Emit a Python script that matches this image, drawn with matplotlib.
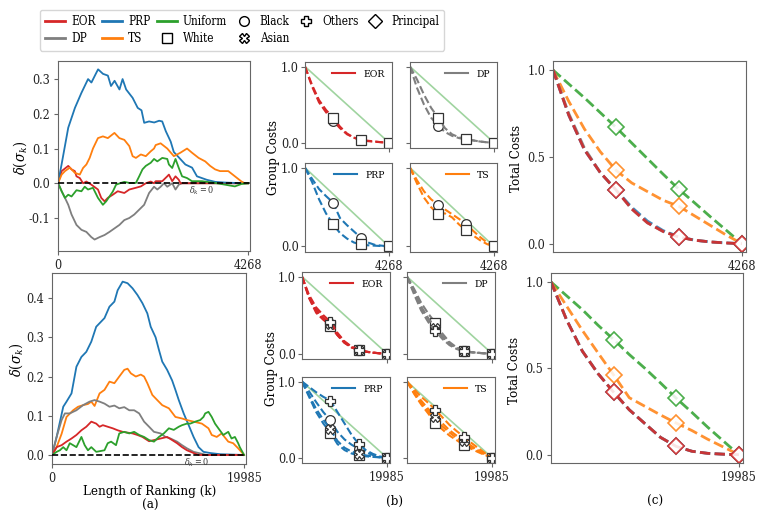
import numpy as np
import matplotlib
matplotlib.use("Agg")
from matplotlib import pyplot as plt
from matplotlib.lines import Line2D

plt.rcParams['font.family'] = ['DejaVu Serif']
plt.rcParams['font.stretch'] = 'condensed'
plt.rcParams['mathtext.fontset'] = 'dejavuserif'
plt.rcParams['axes.unicode_minus'] = False

N_TOP = 4268
N_BOT = 19985

COLORS = {'EOR': '#d62728', 'DP': '#7f7f7f', 'PRP': '#1f77b4',
          'TS': '#ff7f0e', 'Uniform': '#2ca02c'}
MARKERS = {'Black': 'o', 'White': 's', 'Asian': 'X', 'Others': 'P'}

# ---- (a) delta(sigma_k) along the ranking, 4268 candidates
prp_top_k = [0, 80, 230, 380, 525, 675, 750, 860, 900, 1010, 1120, 1190, 1270, 1380, 1450,
             1530, 1675, 1790, 1875, 1935, 2045, 2160, 2270, 2340, 2420, 2530, 2600, 2860,
             3010, 3120, 3340, 3530, 3750, 4190, 4268]
prp_top_y = [0, 0.054, 0.16, 0.217, 0.26, 0.30, 0.29, 0.318, 0.328, 0.315, 0.31, 0.28, 0.295,
             0.27, 0.30, 0.27, 0.246, 0.217, 0.21, 0.174, 0.178, 0.175, 0.18, 0.178, 0.15, 0.12,
             0.09, 0.054, 0.045, 0.02, 0.01, 0.004, 0.002, 0, 0]
ts_top_k = [0, 82, 156, 267, 378, 489, 563, 637, 711, 785, 897, 1008, 1119, 1267, 1378, 1489,
            1601, 1675, 1749, 1860, 1971, 2082, 2156, 2193, 2304, 2453, 2601, 2749, 2897, 3008,
            3157, 3305, 3416, 3527, 3638, 3823, 3972, 4120, 4194, 4268]
ts_top_y = [0, 0.025, 0.035, 0.045, 0.03, 0.025, 0.044, 0.054, 0.073, 0.10, 0.13, 0.135, 0.13,
            0.145, 0.13, 0.125, 0.107, 0.078, 0.073, 0.083, 0.078, 0.092, 0.10, 0.11, 0.115, 0.10,
            0.078, 0.088, 0.10, 0.088, 0.073, 0.063, 0.05, 0.04, 0.035, 0.035, 0.02, 0.005, 0, 0]
eor_top_k = [0, 82, 230, 304, 378, 415, 489, 563, 637, 748, 897, 971, 1045, 1119, 1230, 1341,
             1489, 1601, 1749, 1860, 1971, 2082, 2156, 2193, 2341, 2453, 2490, 2564, 2638, 2712,
             2750, 4268]
eor_top_y = [0, 0.035, 0.05, 0.04, 0.035, 0.02, 0.015, 0, 0.005, -0.004, -0.018, -0.042, -0.052,
             -0.042, -0.033, -0.023, -0.028, -0.018, -0.013, -0.009, 0, 0.005, 0, 0.006, 0.006,
             0.02, 0.025, 0.006, 0.02, 0.01, 0, 0]
uni_top_k = [0, 40, 82, 156, 230, 304, 415, 526, 600, 674, 785, 897, 1008, 1082, 1156, 1230, 1304,
             1415, 1489, 1601, 1749, 1823, 1897, 1971, 2082, 2156, 2230, 2341, 2453, 2490, 2564,
             2638, 2712, 2786, 2897, 3008, 3231, 3527, 3972, 4120, 4268]
uni_top_y = [0, -0.01, -0.023, -0.042, -0.033, -0.038, -0.02, -0.023, -0.01, -0.018, -0.013,
             -0.042, -0.062, -0.052, -0.038, -0.024, -0.004, 0.001, 0.004, 0.001, 0.001, 0.02,
             0.04, 0.05, 0.059, 0.07, 0.063, 0.073, 0.07, 0.054, 0.044, 0.07, 0.044, 0.02, 0.015,
             0.006, 0.006, 0.001, -0.009, -0.002, 0]
dp_top_k = [0, 82, 156, 230, 304, 415, 526, 637, 748, 822, 934, 1045, 1156, 1267, 1378, 1489,
            1601, 1712, 1823, 1934, 2045, 2156, 2230, 2304, 2379, 2453, 2564, 2638, 2712, 2786,
            4268]
dp_top_y = [0, -0.023, -0.042, -0.062, -0.09, -0.12, -0.134, -0.14, -0.155, -0.162, -0.155,
            -0.149, -0.14, -0.13, -0.12, -0.106, -0.1, -0.09, -0.076, -0.062, -0.028, -0.01,
            -0.018, -0.01, 0, -0.01, 0, -0.018, -0.004, 0, 0]

# ---- (a) delta(sigma_k) along the ranking, 19985 candidates
prp_bot_k = [0, 480, 1170, 1510, 2030, 2540, 3060, 3570, 4090, 4600, 5460, 5975, 6490, 6830,
             7350, 7860, 8380, 8890, 9410, 9920, 10270, 10780, 11125, 11470, 11980, 12500,
             12840, 13190, 13700, 14220, 14730, 15250, 15760, 16450, 17480, 19985]
prp_bot_y = [0, 0.046, 0.123, 0.136, 0.157, 0.225, 0.25, 0.263, 0.289, 0.327, 0.349, 0.378,
             0.391, 0.42, 0.442, 0.438, 0.425, 0.408, 0.387, 0.361, 0.327, 0.30, 0.268, 0.238,
             0.217, 0.19, 0.166, 0.14, 0.106, 0.076, 0.046, 0.02, 0.008, 0.005, 0.002, 0]
ts_bot_k = [0, 480, 1000, 1510, 2200, 2710, 3230, 3740, 4090, 4430, 4950, 5460, 5980, 6490,
            7000, 7520, 7860, 8210, 8720, 9240, 9580, 9920, 10440, 10950, 11470, 12160, 12840,
            13530, 14040, 14730, 15590, 16280, 16620, 17140, 17650, 18340, 18850, 19370, 19985]
ts_bot_y = [0, 0.02, 0.054, 0.097, 0.114, 0.123, 0.127, 0.13, 0.136, 0.125, 0.157, 0.166, 0.187,
            0.183, 0.20, 0.217, 0.22, 0.208, 0.20, 0.205, 0.20, 0.183, 0.153, 0.14, 0.127, 0.119,
            0.097, 0.093, 0.089, 0.085, 0.08, 0.068, 0.051, 0.046, 0.055, 0.034, 0.03, 0.017, 0]
dp_bot_k = [0, 480, 1000, 1340, 1850, 2540, 3230, 3910, 4430, 4950, 5460, 5980, 6490, 7000,
            7520, 8040, 8550, 9070, 9580, 10100, 10610, 11300, 11810, 12330, 13010, 13530, 14040,
            14730, 15420, 16100, 19985]
dp_bot_y = [0, 0.046, 0.089, 0.106, 0.106, 0.114, 0.127, 0.136, 0.14, 0.136, 0.131, 0.123,
            0.126, 0.119, 0.122, 0.114, 0.114, 0.106, 0.085, 0.072, 0.059, 0.055, 0.046, 0.042,
            0.034, 0.025, 0.017, 0.008, 0.004, 0, 0]
eor_bot_k = [0, 480, 1000, 1510, 2030, 2540, 3060, 3570, 4090, 4600, 4950, 5290, 5800, 6320,
             6830, 7350, 7860, 8380, 8890, 9410, 10100, 10610, 11300, 11980, 12500, 13010, 13530,
             14040, 14730, 15250, 19985]
eor_bot_y = [0, 0.02, 0.025, 0.034, 0.042, 0.051, 0.063, 0.072, 0.085, 0.08, 0.072, 0.076,
             0.072, 0.068, 0.063, 0.059, 0.057, 0.055, 0.051, 0.046, 0.035, 0.038, 0.042, 0.046,
             0.038, 0.03, 0.02, 0.012, 0.005, 0, 0]
uni_bot_k = [0, 480, 820, 1170, 1510, 1850, 2200, 2540, 3060, 3400, 3740, 4090, 4600, 5460,
             5800, 6150, 6660, 7000, 7520, 8040, 8550, 9070, 9580, 10100, 10610, 11130, 11640,
             12160, 12670, 13190, 13530, 14040, 14390, 14900, 15420, 15760, 15940, 16280, 16620,
             16960, 17310, 17820, 18340, 18680, 19030, 19370, 19540, 19985]
uni_bot_y = [0, 0.008, 0.012, 0.02, 0.012, 0.03, 0.025, 0.02, 0.046, 0.025, 0.012, 0.02, 0.008,
             0.012, 0.03, 0.034, 0.025, 0.055, 0.059, 0.055, 0.059, 0.051, 0.046, 0.038, 0.034,
             0.046, 0.055, 0.068, 0.064, 0.072, 0.076, 0.08, 0.08, 0.085, 0.089, 0.097, 0.106,
             0.11, 0.097, 0.08, 0.068, 0.051, 0.059, 0.042, 0.046, 0.03, 0.02, 0]

# ---- (b) group costs, sampled at twelfths of the ranking; markers at 1/3, 2/3, end
GRID = [0, 1 / 12, 2 / 12, 3 / 12, 4 / 12, 5 / 12, 6 / 12, 7 / 12, 8 / 12, 9 / 12, 10 / 12, 11 / 12, 1]

eor_black_top = [1.0, 0.74, 0.53, 0.40, 0.29, 0.19, 0.11, 0.065, 0.04, 0.025, 0.015, 0.005, 0]
eor_white_top = [1.0, 0.76, 0.56, 0.43, 0.33, 0.21, 0.12, 0.065, 0.03, 0.02, 0.012, 0.005, 0]
dp_black_top = [1.0, 0.72, 0.50, 0.33, 0.224, 0.14, 0.09, 0.06, 0.043, 0.03, 0.015, 0.005, 0]
dp_white_top = [1.0, 0.83, 0.63, 0.46, 0.33, 0.19, 0.11, 0.07, 0.05, 0.03, 0.015, 0.005, 0]
prp_black_top = [1.0, 0.86, 0.73, 0.64, 0.558, 0.36, 0.27, 0.19, 0.11, 0.05, 0.02, 0.01, 0]
prp_white_top = [1.0, 0.82, 0.60, 0.42, 0.283, 0.17, 0.10, 0.05, 0.026, 0.015, 0.01, 0.005, 0]
ts_black_top = [1.0, 0.84, 0.70, 0.60, 0.53, 0.47, 0.41, 0.35, 0.29, 0.20, 0.12, 0.05, 0]
ts_white_top = [1.0, 0.80, 0.62, 0.50, 0.41, 0.42, 0.37, 0.28, 0.206, 0.14, 0.08, 0.03, 0]

eor_black_bot = [1.0, 0.72, 0.53, 0.44, 0.37, 0.24, 0.14, 0.08, 0.047, 0.025, 0.012, 0.004, 0]
eor_white_bot = [1.0, 0.73, 0.55, 0.45, 0.36, 0.24, 0.14, 0.08, 0.047, 0.025, 0.012, 0.004, 0]
eor_asian_bot = [1.0, 0.74, 0.57, 0.47, 0.38, 0.25, 0.15, 0.085, 0.047, 0.025, 0.012, 0.004, 0]
eor_others_bot = [1.0, 0.76, 0.60, 0.50, 0.414, 0.27, 0.16, 0.09, 0.05, 0.027, 0.013, 0.004, 0]
dp_black_bot = [1.0, 0.80, 0.60, 0.45, 0.33, 0.22, 0.13, 0.07, 0.035, 0.02, 0.01, 0.004, 0]
dp_white_bot = [1.0, 0.84, 0.66, 0.52, 0.40, 0.26, 0.15, 0.08, 0.038, 0.02, 0.01, 0.004, 0]
dp_asian_bot = [1.0, 0.80, 0.61, 0.46, 0.336, 0.22, 0.13, 0.07, 0.035, 0.02, 0.01, 0.004, 0]
dp_others_bot = [1.0, 0.77, 0.56, 0.41, 0.293, 0.19, 0.11, 0.06, 0.03, 0.018, 0.01, 0.004, 0]
prp_black_bot = [1.0, 0.87, 0.73, 0.60, 0.49, 0.34, 0.24, 0.17, 0.116, 0.07, 0.035, 0.01, 0]
prp_white_bot = [1.0, 0.80, 0.60, 0.45, 0.33, 0.18, 0.10, 0.055, 0.03, 0.018, 0.01, 0.004, 0]
prp_asian_bot = [1.0, 0.82, 0.64, 0.50, 0.375, 0.22, 0.13, 0.08, 0.05, 0.03, 0.015, 0.005, 0]
prp_others_bot = [1.0, 0.93, 0.86, 0.80, 0.75, 0.60, 0.45, 0.30, 0.18, 0.10, 0.05, 0.015, 0]
ts_black_bot = [1.0, 0.85, 0.72, 0.61, 0.50, 0.41, 0.33, 0.26, 0.20, 0.14, 0.09, 0.04, 0]
ts_white_bot = [1.0, 0.84, 0.70, 0.58, 0.46, 0.37, 0.29, 0.23, 0.17, 0.12, 0.075, 0.035, 0]
ts_asian_bot = [1.0, 0.87, 0.75, 0.64, 0.54, 0.45, 0.36, 0.29, 0.224, 0.16, 0.10, 0.045, 0]
ts_others_bot = [1.0, 0.90, 0.80, 0.72, 0.63, 0.53, 0.43, 0.35, 0.276, 0.20, 0.13, 0.06, 0]

# ---- (c) total costs
uni_total_top = [1.0, 0.92, 0.84, 0.755, 0.67, 0.58, 0.49, 0.40, 0.313, 0.235, 0.155, 0.078, 0]
ts_total_top = [1.0, 0.82, 0.66, 0.53, 0.423, 0.35, 0.30, 0.25, 0.215, 0.16, 0.105, 0.05, 0]
prp_total_top = [1.0, 0.74, 0.54, 0.41, 0.31, 0.21, 0.13, 0.075, 0.04, 0.02, 0.01, 0.004, 0]
dp_total_top = [1.0, 0.75, 0.55, 0.41, 0.31, 0.20, 0.12, 0.07, 0.038, 0.02, 0.01, 0.004, 0]
eor_total_top = [1.0, 0.74, 0.54, 0.41, 0.31, 0.20, 0.12, 0.07, 0.038, 0.02, 0.01, 0.004, 0]
uni_total_bot = [1.0, 0.92, 0.84, 0.75, 0.667, 0.58, 0.50, 0.415, 0.327, 0.245, 0.16, 0.08, 0]
ts_total_bot = [1.0, 0.86, 0.72, 0.59, 0.462, 0.33, 0.28, 0.23, 0.183, 0.14, 0.09, 0.045, 0]
prp_total_bot = [1.0, 0.78, 0.60, 0.47, 0.362, 0.26, 0.18, 0.10, 0.048, 0.02, 0.008, 0.003, 0]
dp_total_bot = [1.0, 0.78, 0.60, 0.47, 0.362, 0.26, 0.18, 0.10, 0.048, 0.02, 0.008, 0.003, 0]
eor_total_bot = [1.0, 0.78, 0.60, 0.47, 0.362, 0.26, 0.18, 0.10, 0.048, 0.02, 0.008, 0.003, 0]

MARK_IDX = [4, 8, 12]
SPINE = '#666666'
W, H = 770, 517


def rect(x0, y0, x1, y1):
    return [x0 / W, 1 - y1 / H, (x1 - x0) / W, (y1 - y0) / H]


def style(ax):
    for s in ax.spines.values():
        s.set_color(SPINE)
    ax.tick_params(colors='#222222', labelsize=9, length=3, color=SPINE, pad=2.5)


def delta_panel(ax, n, series, ylim, yticks):
    for key, ks, ys in series:
        ax.plot(ks, ys, color=COLORS[key], lw=1.3)
    ax.axhline(0, color='black', ls='--', lw=1.2, zorder=5)
    ax.text(0.687 * n, -0.004, r'$\delta_k=0$', fontsize=6.5, color='#333333', va='top', ha='left')
    ax.set_xlim(0, n * 1.01)
    ax.set_ylim(*ylim)
    ax.set_xticks([0, n])
    ax.set_xticklabels(['0', str(n)])
    ax.set_yticks(yticks)
    ax.set_yticklabels(['%.1f' % t for t in yticks])
    style(ax)


def group_panel(ax, n, method, curves, show_x, show_y):
    xs = [g * n for g in GRID]
    ax.plot([0, n], [1, 0], color=COLORS['Uniform'], alpha=0.45, lw=1.2)
    for grp, ys in curves:
        ax.plot(xs, ys, ls='--', color=COLORS[method], lw=1.5, marker=MARKERS[grp],
                markevery=MARK_IDX, ms=7, mfc='white', mec='#333333', mew=0.9)
    ax.legend([Line2D([], [], color=COLORS[method], lw=1.5)], [method], loc='upper right',
              frameon=False, fontsize=7.5, handlelength=2.2, borderaxespad=0.3)
    ax.set_xlim(0, n * 1.035)
    ax.set_ylim(-0.07, 1.06)
    ax.set_xticks([n])
    ax.set_xticklabels([str(n)] if show_x else [''])
    ax.set_yticks([0, 1])
    ax.set_yticklabels(['0.0', '1.0'] if show_y else ['', ''])
    style(ax)
    ax.tick_params(axis='y', pad=1.5)


def total_panel(ax, n, curves):
    xs = [g * n for g in GRID]
    for key, ys in curves:
        r, g, b = matplotlib.colors.to_rgb(COLORS[key])
        ax.plot(xs, ys, ls='--', color=COLORS[key], lw=2, alpha=0.85, marker='D',
                markevery=MARK_IDX, ms=8, mfc='white', mec=(r, g, b, 0.6), mew=1.2)
    ax.set_xlim(0, n * 1.022)
    ax.set_ylim(-0.048, 1.052)
    ax.set_xticks([n])
    ax.set_xticklabels([str(n)])
    ax.set_yticks([0, 0.5, 1])
    ax.set_yticklabels(['0.0', '0.5', '1.0'])
    style(ax)


fig = plt.figure(figsize=(7.7, 5.17), dpi=100)

# (a)
ax = fig.add_axes(rect(58, 61, 250, 251))
delta_panel(ax, N_TOP, [('DP', dp_top_k, dp_top_y), ('EOR', eor_top_k, eor_top_y),
                        ('PRP', prp_top_k, prp_top_y), ('TS', ts_top_k, ts_top_y),
                        ('Uniform', uni_top_k, uni_top_y)],
            (-0.195, 0.352), [-0.1, 0.0, 0.1, 0.2, 0.3])
ax = fig.add_axes(rect(52, 273, 246, 464))
delta_panel(ax, N_BOT, [('PRP', prp_bot_k, prp_bot_y), ('TS', ts_bot_k, ts_bot_y),
                        ('DP', dp_bot_k, dp_bot_y), ('EOR', eor_bot_k, eor_bot_y),
                        ('Uniform', uni_bot_k, uni_bot_y)],
            (-0.023, 0.464), [0.0, 0.1, 0.2, 0.3, 0.4])

# (b) top group
group_panel(fig.add_axes(rect(305, 62, 392, 148)), N_TOP, 'EOR',
            [('Black', eor_black_top), ('White', eor_white_top)], False, True)
group_panel(fig.add_axes(rect(410, 62, 497, 148)), N_TOP, 'DP',
            [('Black', dp_black_top), ('White', dp_white_top)], False, False)
group_panel(fig.add_axes(rect(305, 163, 392, 252)), N_TOP, 'PRP',
            [('Black', prp_black_top), ('White', prp_white_top)], True, True)
group_panel(fig.add_axes(rect(410, 163, 497, 252)), N_TOP, 'TS',
            [('Black', ts_black_top), ('White', ts_white_top)], True, False)
# (b) bottom group
group_panel(fig.add_axes(rect(302, 272, 390, 359)), N_BOT, 'EOR',
            [('Black', eor_black_bot), ('White', eor_white_bot), ('Asian', eor_asian_bot),
             ('Others', eor_others_bot)], False, True)
group_panel(fig.add_axes(rect(407, 272, 495, 359)), N_BOT, 'DP',
            [('Black', dp_black_bot), ('White', dp_white_bot), ('Asian', dp_asian_bot),
             ('Others', dp_others_bot)], False, False)
group_panel(fig.add_axes(rect(302, 377, 390, 463)), N_BOT, 'PRP',
            [('Black', prp_black_bot), ('White', prp_white_bot), ('Asian', prp_asian_bot),
             ('Others', prp_others_bot)], True, True)
group_panel(fig.add_axes(rect(407, 377, 495, 463)), N_BOT, 'TS',
            [('Black', ts_black_bot), ('White', ts_white_bot), ('Asian', ts_asian_bot),
             ('Others', ts_others_bot)], True, False)

# (c)
total_panel(fig.add_axes(rect(553, 61, 746, 252)), N_TOP,
            [('Uniform', uni_total_top), ('TS', ts_total_top), ('PRP', prp_total_top),
             ('DP', dp_total_top), ('EOR', eor_total_top)])
total_panel(fig.add_axes(rect(551, 273, 743, 463)), N_BOT,
            [('Uniform', uni_total_bot), ('TS', ts_total_bot), ('PRP', prp_total_bot),
             ('DP', dp_total_bot), ('EOR', eor_total_bot)])

# labels
fig.text(20 / W, 1 - 158 / H, r'$\delta(\sigma_k)$', rotation=90, ha='center', va='center', fontsize=10.5)
fig.text(16 / W, 1 - 360 / H, r'$\delta(\sigma_k)$', rotation=90, ha='center', va='center', fontsize=10.5)
fig.text(274 / W, 1 - 158 / H, 'Group Costs', rotation=90, ha='center', va='center', fontsize=9.5)
fig.text(272 / W, 1 - 368 / H, 'Group Costs', rotation=90, ha='center', va='center', fontsize=9.5)
fig.text(517 / W, 1 - 158 / H, 'Total Costs', rotation=90, ha='center', va='center', fontsize=9.5)
fig.text(515 / W, 1 - 370 / H, 'Total Costs', rotation=90, ha='center', va='center', fontsize=9.5)
fig.text(150 / W, 1 - 491 / H, 'Length of Ranking (k)', ha='center', va='center', fontsize=9.5)
fig.text(150 / W, 1 - 505 / H, '(a)', ha='center', va='center', fontsize=9.5)
fig.text(395 / W, 1 - 501 / H, '(b)', ha='center', va='center', fontsize=9.5)
fig.text(655 / W, 1 - 501 / H, '(c)', ha='center', va='center', fontsize=9.5)

# shared legend
handles = [Line2D([], [], color=COLORS['EOR'], lw=2), Line2D([], [], color=COLORS['DP'], lw=2),
           Line2D([], [], color=COLORS['PRP'], lw=2), Line2D([], [], color=COLORS['TS'], lw=2),
           Line2D([], [], color=COLORS['Uniform'], lw=2)]
for m in ['s', 'o', 'X', 'P', 'D']:
    handles.append(Line2D([], [], ls='none', marker=m, ms=7, mfc='white', mec='black', mew=1))
labels = ['EOR', 'DP', 'PRP', 'TS', 'Uniform', 'White', 'Black', 'Asian', 'Others', 'Principal']
fig.legend(handles, labels, loc='upper left', bbox_to_anchor=(40 / W, 1 - 10 / H), ncol=6,
           fontsize=8.5, frameon=True, edgecolor='#cccccc', handlelength=1.7, handletextpad=0.5,
           columnspacing=0.55, borderpad=0.45, labelspacing=0.35, borderaxespad=0)

fig.savefig('out.png', dpi=100)
